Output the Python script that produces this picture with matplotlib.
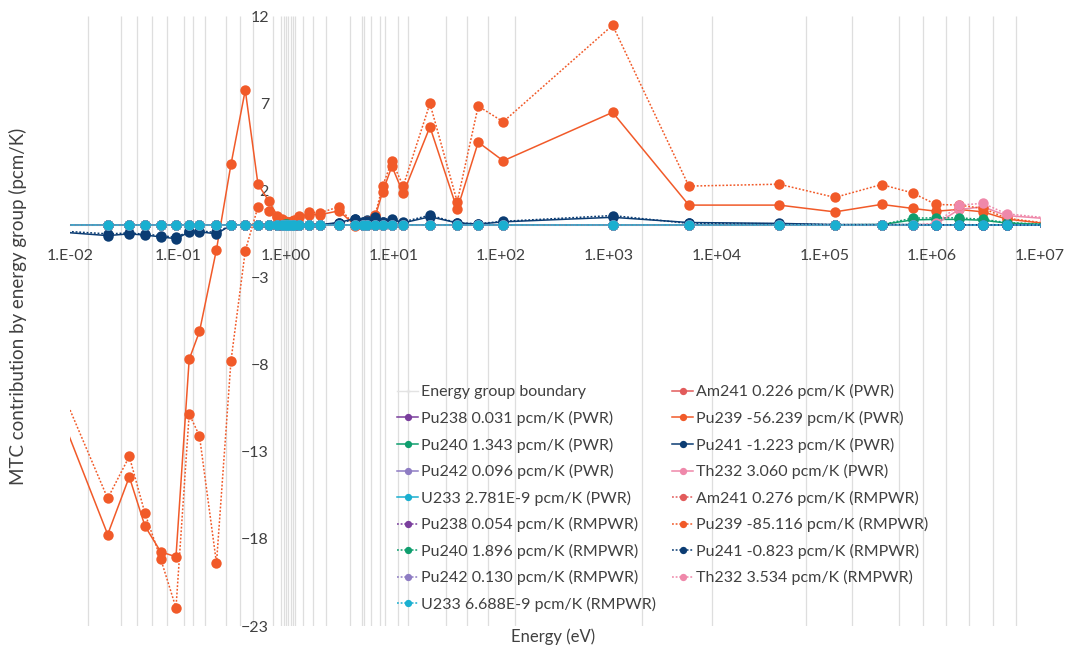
import matplotlib.pyplot as plt
from matplotlib.lines import Line2D

plt.rcParams['font.family'] = ['Lato', 'DejaVu Sans']
plt.rcParams['font.size'] = 11.5

# energy of each plotted point (eV), one per group
energy = [0.00652, 0.02237, 0.03549, 0.04962, 0.06939, 0.09623, 0.1276, 0.1590,
          0.2286, 0.3114, 0.4229, 0.5546, 0.6986, 0.8415, 0.9358, 0.9915,
          1.035, 1.087, 1.147, 1.202, 1.346, 1.649, 2.085, 3.129,
          4.404, 5.202, 5.751, 6.795, 7.940, 9.705, 12.35, 21.86,
          39.15, 61.31, 104.6, 1082, 5523, 37990, 124900, 338600,
          656700, 1.080e6, 1.776e6, 2.967e6, 4.889e6, 1.108e7]

# energy group boundaries (eV)
group_bounds = [0.01479, 0.02972, 0.04156, 0.05726, 0.07990, 0.1142, 0.1393, 0.1788,
                0.2800, 0.3776, 0.5017, 0.7690, 0.9006, 0.9725, 1.0085, 1.059,
                1.115, 1.179, 1.222, 1.459, 1.807, 2.355, 3.957, 5.081,
                5.337, 6.197, 7.510, 8.357, 11.11, 13.57, 30.56, 47.86,
                75.93, 135.1, 2037, 9085, 67220, 180700, 493000, 812800,
                1.337e6, 2.199e6, 3.626e6, 5.964e6]

pu239_pwr = [-9.3, -17.75, -14.44, -17.27, -18.74, -19.03, -7.7, -6.1,
             -1.4, 3.48, 7.75, 2.35, 1.39, 0.52, 0.35, 0.25,
             0.2, 0.2, 0.25, 0.3, 0.52, 0.6, 0.6, 0.82,
             0.0, 0.1, 0.2, 0.5, 1.9, 3.38, 1.82, 5.64,
             0.9, 4.76, 3.69, 6.47, 1.15, 1.15, 0.76, 1.19,
             0.96, 0.8, 0.9, 0.76, 0.35, 0.1]
pu239_rm = [-7.9, -15.68, -13.27, -16.54, -19.14, -21.96, -10.83, -12.1,
            -19.4, -7.8, -1.47, 1.05, 0.82, 0.45, 0.3, 0.2,
            0.15, 0.15, 0.2, 0.25, 0.45, 0.73, 0.71, 1.05,
            -0.05, 0.15, 0.25, 0.6, 2.24, 3.67, 2.24, 6.98,
            1.34, 6.83, 5.93, 11.47, 2.24, 2.35, 1.59, 2.33,
            1.85, 1.19, 1.15, 0.96, 0.4, 0.12]
pu241_pwr = [-0.35, -0.6, -0.5, -0.57, -0.67, -0.78, -0.4, -0.38,
             -0.5, 0.0, 0.03, 0.02, 0.02, 0.02, 0.02, 0.02,
             0.02, 0.02, 0.02, 0.02, 0.02, 0.03, 0.03, 0.15,
             0.38, 0.2, 0.29, 0.42, 0.2, 0.33, 0.13, 0.48,
             0.13, 0.06, 0.19, 0.45, 0.15, 0.1, 0.03, 0.03,
             0.03, 0.02, 0.02, 0.02, 0.01, 0.0]
pu241_rm = [-0.3, -0.5, -0.45, -0.52, -0.6, -0.7, -0.35, -0.33,
            -0.42, 0.0, 0.02, 0.02, 0.02, 0.02, 0.02, 0.02,
            0.02, 0.02, 0.02, 0.02, 0.02, 0.03, 0.03, 0.12,
            0.33, 0.18, 0.26, 0.48, 0.2, 0.3, 0.19, 0.57,
            0.13, 0.08, 0.22, 0.55, 0.1, 0.08, 0.03, 0.03,
            0.03, 0.02, 0.02, 0.02, 0.01, 0.0]
pu240_pwr = [0.0, 0.0, 0.0, 0.0, 0.0, 0.0, 0.0, 0.0,
             0.0, 0.0, 0.0, 0.0, 0.0, 0.0, 0.01, 0.03,
             0.03, 0.01, 0.0, 0.0, 0.0, 0.0, 0.0, 0.0,
             0.0, 0.0, 0.0, 0.0, 0.0, 0.0, 0.0, 0.0,
             0.0, 0.0, 0.0, 0.01, 0.01, 0.01, 0.02, 0.03,
             0.3, 0.33, 0.33, 0.28, 0.12, 0.04]
pu240_rm = [0.0, 0.0, 0.0, 0.0, 0.0, 0.0, 0.0, 0.0,
            0.0, 0.0, 0.0, 0.0, 0.0, 0.0, 0.01, 0.04,
            0.04, 0.01, 0.0, 0.0, 0.0, 0.0, 0.0, 0.0,
            0.0, 0.0, 0.0, 0.0, 0.0, 0.0, 0.0, 0.0,
            0.0, 0.0, 0.0, 0.01, 0.01, 0.01, 0.02, 0.03,
            0.4, 0.42, 0.42, 0.33, 0.15, 0.05]
th232_pwr = [0.0, 0.0, 0.0, 0.0, 0.0, 0.0, 0.0, 0.0,
             0.0, 0.0, 0.0, 0.0, 0.0, 0.0, 0.0, 0.0,
             0.0, 0.0, 0.0, 0.0, 0.0, 0.0, 0.0, 0.0,
             0.0, 0.0, 0.0, 0.0, 0.0, 0.0, 0.0, 0.0,
             0.0, 0.0, 0.0, 0.0, 0.0, 0.0, 0.0, 0.0,
             0.0, 0.05, 0.9, 1.05, 0.55, 0.38]
th232_rm = [0.0, 0.0, 0.0, 0.0, 0.0, 0.0, 0.0, 0.0,
            0.0, 0.0, 0.0, 0.0, 0.0, 0.0, 0.0, 0.0,
            0.0, 0.0, 0.0, 0.0, 0.0, 0.0, 0.0, 0.0,
            0.0, 0.0, 0.0, 0.0, 0.0, 0.0, 0.0, 0.0,
            0.0, 0.0, 0.0, 0.0, 0.0, 0.0, 0.0, 0.0,
            0.02, 0.1, 1.15, 1.25, 0.65, 0.43]
am241_pwr = [0.01, 0.02, 0.02, 0.02, 0.02, 0.02, 0.02, 0.02,
             0.02, 0.01, 0.01, 0.01, 0.01, 0.01, 0.01, 0.01,
             0.01, 0.01, 0.01, 0.01, 0.01, 0.01, 0.01, 0.01,
             0.01, 0.01, 0.01, 0.01, 0.01, 0.01, 0.01, 0.01,
             0.01, 0.01, 0.01, 0.01, 0.0, 0.0, 0.0, 0.0,
             0.0, 0.0, 0.0, 0.0, 0.0, 0.0]
am241_rm = [0.01, 0.02, 0.02, 0.02, 0.02, 0.02, 0.02, 0.02,
            0.02, 0.01, 0.01, 0.01, 0.01, 0.01, 0.01, 0.01,
            0.01, 0.01, 0.01, 0.01, 0.01, 0.01, 0.01, 0.01,
            0.01, 0.01, 0.01, 0.01, 0.01, 0.01, 0.01, 0.01,
            0.01, 0.01, 0.01, 0.01, 0.0, 0.0, 0.0, 0.0,
            0.0, 0.0, 0.0, 0.0, 0.0, 0.0]
# Pu238, Pu242 and U233 stay on the zero line across all groups
flat = [0.0, 0.0, 0.0, 0.0, 0.0, 0.0, 0.0, 0.0,
        0.0, 0.0, 0.0, 0.0, 0.0, 0.0, 0.0, 0.0,
        0.0, 0.0, 0.0, 0.0, 0.0, 0.0, 0.0, 0.0,
        0.0, 0.0, 0.0, 0.0, 0.0, 0.0, 0.0, 0.0,
        0.0, 0.0, 0.0, 0.0, 0.0, 0.0, 0.0, 0.0,
        0.0, 0.0, 0.0, 0.0, 0.0, 0.0]

xtick_vals = [1e-2, 1e-1, 1e0, 1e1, 1e2, 1e3, 1e4, 1e5, 1e6, 1e7]
xtick_labels = ['1.E-02', '1.E-01', '1.E+00', '1.E+01', '1.E+02',
                '1.E+03', '1.E+04', '1.E+05', '1.E+06', '1.E+07']
ytick_vals = [-23, -18, -13, -8, -3, 2, 7, 12]

# (label, values, colour, dotted?) in plotting order (alphabetical, as in Excel)
series = [
    ('Am241 0.226 pcm/K (PWR)', am241_pwr, '#E25B5B', False),
    ('Pu238 0.031 pcm/K (PWR)', flat, '#7A3E9D', False),
    ('Pu239 -56.239 pcm/K (PWR)', pu239_pwr, '#F15A29', False),
    ('Pu240 1.343 pcm/K (PWR)', pu240_pwr, '#0F9E6E', False),
    ('Pu241 -1.223 pcm/K (PWR)', pu241_pwr, '#0B3C73', False),
    ('Pu242 0.096 pcm/K (PWR)', flat, '#8E7CC3', False),
    ('Th232 3.060 pcm/K (PWR)', th232_pwr, '#EF88AA', False),
    ('U233 2.781E-9 pcm/K (PWR)', flat, '#1AAFD0', False),
    ('Am241 0.276 pcm/K (RMPWR)', am241_rm, '#E25B5B', True),
    ('Pu238 0.054 pcm/K (RMPWR)', flat, '#7A3E9D', True),
    ('Pu239 -85.116 pcm/K (RMPWR)', pu239_rm, '#F15A29', True),
    ('Pu240 1.896 pcm/K (RMPWR)', pu240_rm, '#0F9E6E', True),
    ('Pu241 -0.823 pcm/K (RMPWR)', pu241_rm, '#0B3C73', True),
    ('Pu242 0.130 pcm/K (RMPWR)', flat, '#8E7CC3', True),
    ('Th232 3.534 pcm/K (RMPWR)', th232_rm, '#EF88AA', True),
    ('U233 6.688E-9 pcm/K (RMPWR)', flat, '#1AAFD0', True),
]

fig = plt.figure(figsize=(10.7, 6.55), dpi=100)
ax = fig.add_axes([70 / 1070, 1 - 626 / 655, 970 / 1070, 610 / 655])

ax.vlines(group_bounds, -23, 12, color='#DEDEDE', lw=0.9, zorder=1)
bound_handle = Line2D([], [], color='#E3E3E3', lw=1.0, marker='+', markersize=5,
                      label='Energy group boundary')

handles = {}
for i, (label, vals, color, dotted) in enumerate(series):
    ls = (0, (1.2, 1.2)) if dotted else '-'
    line, = ax.plot(energy, vals, color=color, lw=1.1, ls=ls, marker='o',
                    markersize=7.5, markeredgewidth=0, label=label, zorder=3 + i)
    handles[label] = line

ax.set_xscale('log')
ax.set_xlim(1e-2, 1e7)
ax.set_ylim(-23, 12)
ax.set_xticks(xtick_vals)
ax.set_xticklabels(xtick_labels)
ax.minorticks_off()
ax.set_yticks(ytick_vals)

ax.spines['bottom'].set_position(('data', 0))
ax.spines['left'].set_position(('data', 1))
ax.spines['bottom'].set_color('#D9D9D9')
for s in ['left', 'top', 'right']:
    ax.spines[s].set_visible(False)
ax.tick_params(axis='x', length=0, pad=17, labelsize=11.5, labelcolor='#404040')
ax.tick_params(axis='y', length=0, pad=12, labelsize=11.5, labelcolor='#404040')

fig.text(18 / 1070, 1 - 306 / 655, 'MTC contribution by energy group (pcm/K)',
         rotation=90, ha='center', va='center', fontsize=13.5, color='#404040')
fig.text(553 / 1070, 1 - 637 / 655, 'Energy (eV)', ha='center', va='center',
         fontsize=12, color='#404040')

col1 = [bound_handle] + [handles[s[0]] for s in series
                         if s[0].split()[0] in ('Pu238', 'Pu240', 'Pu242', 'U233')]
col2 = [handles[s[0]] for s in series
        if s[0].split()[0] in ('Am241', 'Pu239', 'Pu241', 'Th232')]
leg_handles = col1 + col2
leg = fig.legend(handles=leg_handles, labels=[h.get_label() for h in leg_handles],
                 ncol=2, loc='upper left', bbox_to_anchor=(383 / 1070, 1 - 370 / 655),
                 frameon=False, fontsize=11.5, handlelength=1.3, handletextpad=0.2,
                 labelspacing=0.72, columnspacing=1.0, markerscale=0.7,
                 labelcolor='#404040')

fig.savefig('out.png', dpi=100)
